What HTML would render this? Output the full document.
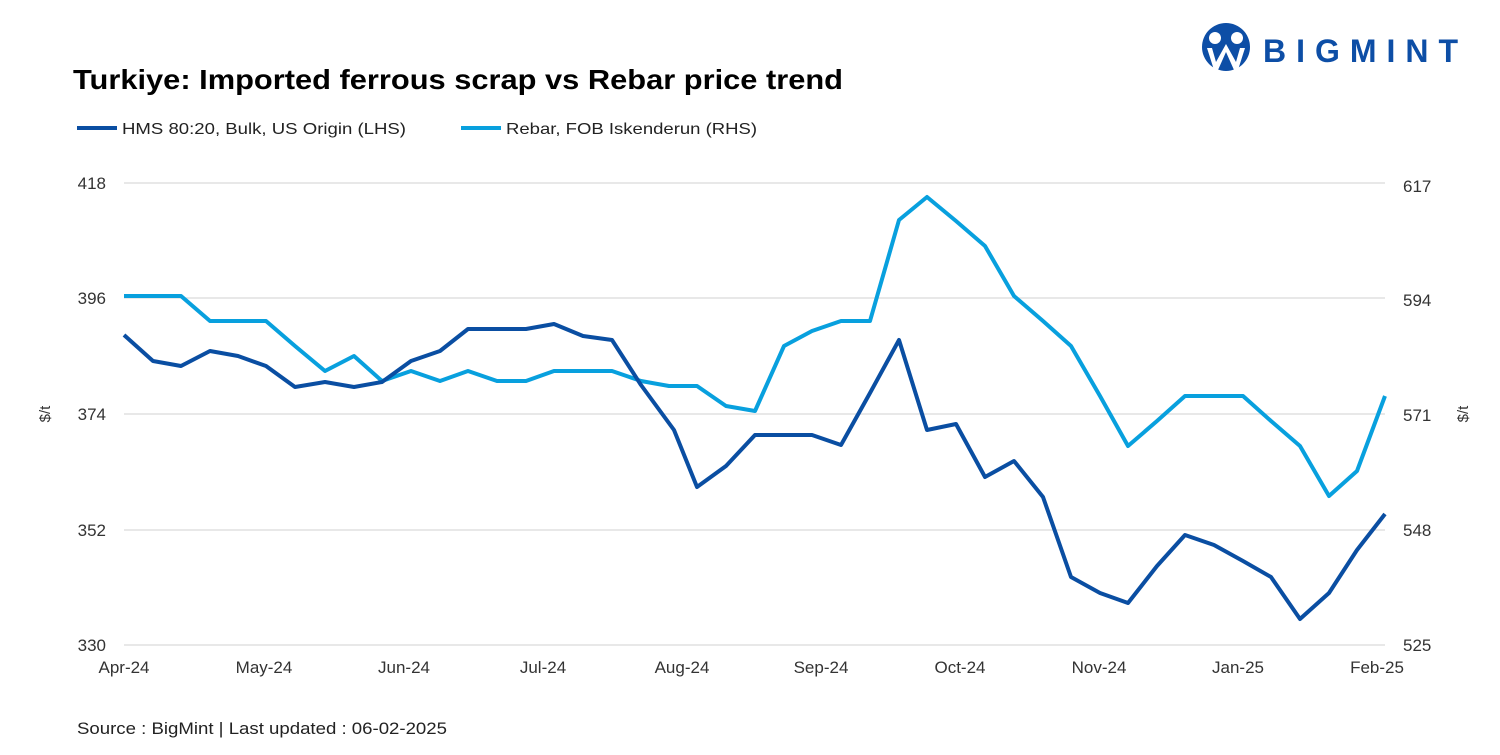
<!DOCTYPE html>
<html><head><meta charset="utf-8"><style>
body{margin:0;background:#fff;width:1500px;height:750px;overflow:hidden;font-family:"Liberation Sans",sans-serif}
</style></head><body>
<svg width="1500" height="750" xmlns="http://www.w3.org/2000/svg" font-family="Liberation Sans, sans-serif">
<rect width="1500" height="750" fill="#fff"/>
<circle cx="1226" cy="47" r="24" fill="#0d4ea6"/>
<circle cx="1215" cy="38" r="6" fill="#fff"/>
<circle cx="1237" cy="38" r="6" fill="#fff"/>
<path d="M1207 48 L1214 70 L1218 70 L1226 52 L1234 70 L1238 70 L1245 48 L1240 48 L1236 62 L1226 44 L1216 62 L1212 48Z" fill="#fff"/>
<text x="1263" y="62" font-size="32" font-weight="bold" fill="#0d4ea6" textLength="195" lengthAdjust="spacing">BIGMINT</text>
<text x="73" y="89" font-size="28" font-weight="bold" fill="#000" textLength="770" lengthAdjust="spacingAndGlyphs">Turkiye: Imported ferrous scrap vs Rebar price trend</text>
<line x1="77" y1="128" x2="117" y2="128" stroke="#0a4ea2" stroke-width="4"/>
<text x="122" y="134" font-size="16" fill="#222" textLength="284" lengthAdjust="spacingAndGlyphs">HMS 80:20, Bulk, US Origin (LHS)</text>
<line x1="461" y1="128" x2="501" y2="128" stroke="#08a0de" stroke-width="4"/>
<text x="506" y="134" font-size="16" fill="#222" textLength="251" lengthAdjust="spacingAndGlyphs">Rebar, FOB Iskenderun (RHS)</text>
<g stroke="#d9d9d9" stroke-width="1.3">
<line x1="124" y1="183" x2="1385" y2="183"/><line x1="124" y1="298" x2="1385" y2="298"/>
<line x1="124" y1="414" x2="1385" y2="414"/><line x1="124" y1="530" x2="1385" y2="530"/>
<line x1="124" y1="645" x2="1385" y2="645"/></g>
<g font-size="17" fill="#333" text-anchor="end">
<text x="106" y="189">418</text><text x="106" y="304">396</text><text x="106" y="420">374</text><text x="106" y="536">352</text><text x="106" y="651">330</text></g>
<g font-size="17" fill="#333" text-anchor="start">
<text x="1403" y="192">617</text><text x="1403" y="306">594</text><text x="1403" y="421">571</text><text x="1403" y="536">548</text><text x="1403" y="651">525</text></g>
<text transform="translate(50,414) rotate(-90)" font-size="15" fill="#333" text-anchor="middle">$/t</text>
<text transform="translate(1468,414) rotate(-90)" font-size="15" fill="#333" text-anchor="middle">$/t</text>
<g font-size="17" fill="#333" text-anchor="middle">
<text x="124" y="673">Apr-24</text><text x="264" y="673">May-24</text><text x="404" y="673">Jun-24</text><text x="543" y="673">Jul-24</text><text x="682" y="673">Aug-24</text><text x="821" y="673">Sep-24</text><text x="960" y="673">Oct-24</text><text x="1099" y="673">Nov-24</text><text x="1238" y="673">Jan-25</text><text x="1377" y="673">Feb-25</text></g>
<polyline fill="none" stroke="#08a0de" stroke-width="4" stroke-linejoin="round" points="124,296 153,296 181,296 210,321 238,321 266,321 295,346 325,371 354,356 382,381 411,371 440,381 468,371 497,381 526,381 554,371 583,371 612,371 641,381 669,386 697,386 726,406 755,411 784,346 812,331 841,321 870,321 899,220 927,197 956,221 985,246 1014,296 1043,321 1071,346 1100,396 1128,446 1157,421 1185,396 1214,396 1243,396 1271,421 1300,446 1329,496 1357,471 1385,396"/>
<polyline fill="none" stroke="#0a4ea2" stroke-width="4" stroke-linejoin="round" points="124,335 153,361 181,366 210,351 238,356 266,366 295,387 325,382 354,387 382,382 411,361 440,351 468,329 497,329 526,329 554,324 583,336 612,340 641,385 674,430 697,487 726,466 755,435 784,435 812,435 841,445 870,393 899,340 927,430 956,424 985,477 1014,461 1043,497 1071,577 1100,593 1128,603 1157,566 1185,535 1214,545 1243,561 1271,577 1300,619 1329,593 1357,550 1385,514"/>
<text x="77" y="734" font-size="17" fill="#222" textLength="370" lengthAdjust="spacingAndGlyphs">Source : BigMint | Last updated : 06-02-2025</text>
</svg>
</body></html>
